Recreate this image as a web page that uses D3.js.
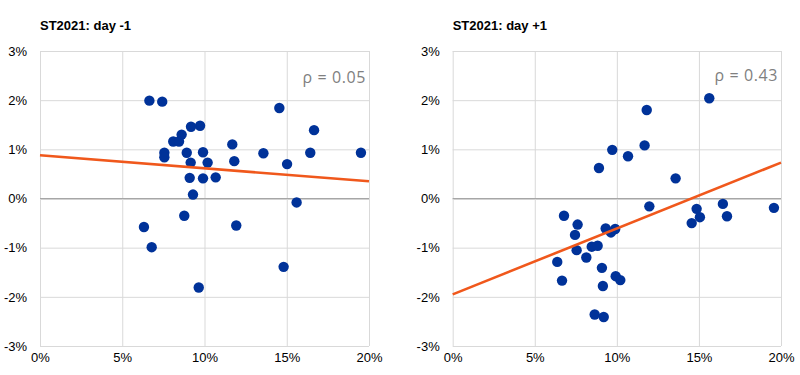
<!DOCTYPE html>
<html>
<head>
<meta charset="utf-8">
<script src="https://cdn.jsdelivr.net/npm/d3@7"></script>
<style>
  body { margin: 0; background: #fff; }
  svg { display: block; font-family: "Liberation Sans", Arial, sans-serif; }
</style>
</head>
<body>
<svg id="chart" width="800" height="375"></svg>
<script>
// capital depletion (x, %) vs. abnormal return (y, %) per bank
const xTicks = [0, 5, 10, 15, 20];
const yTicks = [-3, -2, -1, 0, 1, 2, 3];

const titles = ["ST2021: day -1", "ST2021: day +1"];
const rhoLabels = ["\u03c1 = 0.05", "\u03c1 = 0.43"];

const xDayMinus = [6.65, 7.43, 14.55, 9.18, 9.73, 8.61, 8.1, 8.45, 16.66, 11.69, 7.56, 7.56, 8.92, 9.91, 13.58, 16.43,
  19.51, 9.16, 10.19, 11.81, 15.02, 9.1, 9.91, 10.68, 9.3, 15.6, 8.77, 6.32, 11.93, 6.79, 14.81, 9.65];
const yDayMinus = [1.99, 1.97, 1.84, 1.46, 1.48, 1.3, 1.16, 1.16, 1.39, 1.1, 0.93, 0.84, 0.93, 0.94, 0.92, 0.93,
  0.93, 0.73, 0.73, 0.76, 0.7, 0.42, 0.41, 0.43, 0.08, -0.08, -0.35, -0.58, -0.55, -0.99, -1.39, -1.81];

const xDayPlus = [15.63, 11.82, 9.72, 11.69, 10.68, 8.91, 13.58, 11.98, 16.46, 14.86, 15.06, 14.56, 16.71, 19.57,
  6.78, 7.61, 7.45, 9.32, 9.9, 9.64, 7.55, 8.47, 8.83, 8.14, 6.37, 6.66, 9.09, 9.93, 10.21, 9.15, 8.65, 9.2];
const yDayPlus = [2.04, 1.8, 0.99, 1.08, 0.86, 0.62, 0.41, -0.16, -0.11, -0.21, -0.38, -0.5, -0.36, -0.19,
  -0.35, -0.53, -0.74, -0.61, -0.62, -0.69, -1.05, -0.98, -0.96, -1.2, -1.29, -1.67, -1.41, -1.58, -1.66, -1.78, -2.36, -2.41];

// fitted line values at x = 0% and x = 20%
const fitX = [0, 20];
const fitDayMinus = [0.88, 0.35];
const fitDayPlus = [-1.95, 0.73];

const svg = d3.select("#chart");

const panels = [
  { title: titles[0], rho: rhoLabels[0], xs: xDayMinus, ys: yDayMinus, fit: fitDayMinus,
    left: 40, right: 369, rhoY: 83 },
  { title: titles[1], rho: rhoLabels[1], xs: xDayPlus, ys: yDayPlus, fit: fitDayPlus,
    left: 452.7, right: 781, rhoY: 81 }
];

const plotTop = 51, plotBottom = 346;
const y = d3.scaleLinear().domain([-3, 3]).range([plotBottom, plotTop]);

panels.forEach(p => {
  const x = d3.scaleLinear().domain([0, 20]).range([p.left, p.right]);
  const g = svg.append("g");

  // horizontal grid + y labels
  const yAxis = g.append("g")
    .attr("transform", `translate(${p.left},0)`)
    .call(d3.axisLeft(y).tickValues(yTicks).tickSize(-(p.right - p.left)).tickPadding(13)
      .tickFormat(d => d + "%"));
  yAxis.select(".domain").remove();
  yAxis.selectAll("line").attr("stroke", d => d === 0 ? "#a6a6a6" : "#d9d9d9").attr("stroke-width", 1);
  yAxis.selectAll("text").attr("font-size", 13).attr("fill", "#000");

  // vertical grid + x labels
  const xAxis = g.append("g")
    .attr("transform", `translate(0,${plotBottom})`)
    .call(d3.axisBottom(x).tickValues(xTicks).tickSize(-(plotBottom - plotTop)).tickPadding(7)
      .tickFormat(d => d + "%"));
  xAxis.select(".domain").remove();
  xAxis.selectAll("line").attr("stroke", "#d9d9d9").attr("stroke-width", 1);
  xAxis.selectAll("text").attr("font-size", 13).attr("fill", "#000");

  // redraw zero line on top of vertical grid
  g.append("line")
    .attr("x1", p.left).attr("x2", p.right)
    .attr("y1", y(0)).attr("y2", y(0))
    .attr("stroke", "#a6a6a6");

  // title
  g.append("text")
    .attr("x", p.left).attr("y", 30)
    .attr("font-size", 13).attr("font-weight", "bold")
    .text(p.title);

  // correlation label
  g.append("text")
    .attr("x", p.right - 3).attr("y", p.rhoY)
    .attr("text-anchor", "end")
    .attr("font-family", "'Open Sans', sans-serif")
    .attr("font-size", 16).attr("letter-spacing", 0.6).attr("fill", "#808080")
    .text(p.rho);

  // points
  g.selectAll("circle")
    .data(p.xs.map((v, i) => [v, p.ys[i]]))
    .enter().append("circle")
    .attr("cx", d => x(d[0]))
    .attr("cy", d => y(d[1]))
    .attr("r", 5.2)
    .attr("fill", "#003299");

  // fitted line
  g.append("path")
    .datum(fitX.map((v, i) => [v, p.fit[i]]))
    .attr("fill", "none")
    .attr("stroke", "#f0581c")
    .attr("stroke-width", 2.6)
    .attr("d", d3.line().x(d => x(d[0])).y(d => y(d[1])));
});
</script>
</body>
</html>
